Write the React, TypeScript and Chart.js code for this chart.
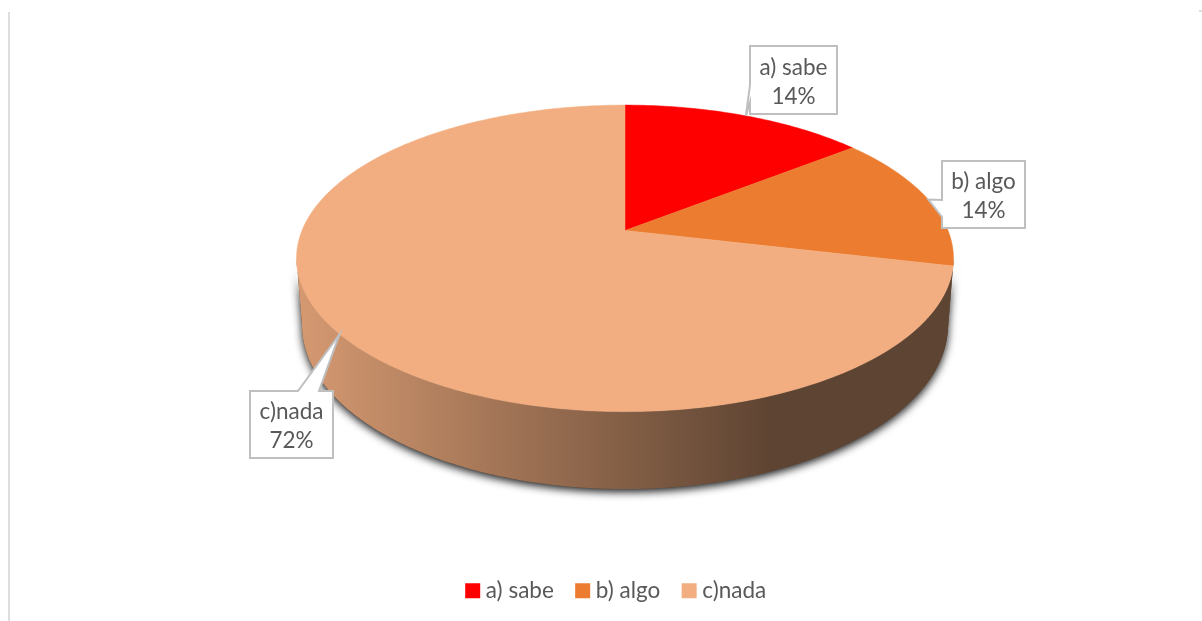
import React, { useEffect, useRef } from "react";
import { Chart, registerables, ArcElement, PieController } from "chart.js";

const categories = ["a) sabe", "b) algo", "c)nada"];
const shares = [14.4, 14.4, 71.6];
const sliceColors = ["#FF0000", "#EB7C30", "#F2AE80"];

const FONT = "Lato, Carlito, sans-serif";
const TEXT = "#595959";
const TILT = -0.1818;
const TOP_FACE = { cx: 625, cy: 230.5, A: 323, B: 148.2 };
const BOTTOM_FACE = { cx: 625, cy: 295.2, A: 317.6, B: 158.6 };
const FRONT_FROM = Math.asin(0.1818);
const FRONT_TO = Math.PI - FRONT_FROM;

type Face = { cx: number; cy: number; A: number; B: number };

function project(face: Face, angle: number) {
  const u = Math.cos(angle);
  const v = Math.sin(angle);
  const d = 1 + TILT * v;
  return { x: face.cx + (face.A * u) / d, y: face.cy + (face.B * v) / d };
}

function shade(hex: string, f: number) {
  const n = parseInt(hex.slice(1), 16);
  const c = [(n >> 16) & 255, (n >> 8) & 255, n & 255].map((q) => Math.round(q * f));
  return `rgb(${c[0]},${c[1]},${c[2]})`;
}

class Arc3D extends ArcElement {
  static id = "arc3d";
  draw(ctx: CanvasRenderingContext2D) {
    const { startAngle, endAngle } = this as any;
    const color = (this as any).options.backgroundColor;
    ctx.save();
    ctx.beginPath();
    ctx.moveTo(TOP_FACE.cx, TOP_FACE.cy);
    const steps = Math.max(8, Math.ceil((endAngle - startAngle) * 60));
    for (let i = 0; i <= steps; i++) {
      const p = project(TOP_FACE, startAngle + ((endAngle - startAngle) * i) / steps);
      ctx.lineTo(p.x, p.y);
    }
    ctx.closePath();
    ctx.fillStyle = color;
    ctx.fill();
    ctx.strokeStyle = color;
    ctx.lineWidth = 0.5;
    ctx.stroke();
    ctx.restore();
  }
}

class Pie3D extends PieController {
  static id = "pie3d";
  static defaults = { dataElementType: "arc3d" };
}

Chart.register(...registerables, Arc3D, Pie3D);

const wallPlugin = {
  id: "wall",
  beforeDatasetsDraw(chart: any) {
    const ctx: CanvasRenderingContext2D = chart.ctx;
    const arcs = chart.getDatasetMeta(0).data;
    const ranges: { from: number; to: number; color: string }[] = [];
    arcs.forEach((arc: any) => {
      const s = arc.startAngle;
      const e = arc.endAngle;
      for (const k of [0, Math.PI * 2]) {
        const from = Math.max(s - k, FRONT_FROM);
        const to = Math.min(e - k, FRONT_TO);
        if (to > from) ranges.push({ from, to, color: arc.options.backgroundColor });
      }
    });
    // one pass for the cast shadow, under every wall
    ctx.save();
    ctx.shadowColor = "rgba(0,0,0,0.9)";
    ctx.shadowBlur = 8;
    ctx.shadowOffsetY = 3;
    ctx.fillStyle = "#5E4431";
    wallPath(ctx, FRONT_FROM, FRONT_TO);
    ctx.fill();
    ctx.restore();
    ranges.forEach((r) => {
      const g = ctx.createLinearGradient(300, 0, 770, 0);
      g.addColorStop(0, shade(r.color, 0.88));
      g.addColorStop(1, shade(r.color, 0.39));
      ctx.save();
      ctx.fillStyle = g;
      wallPath(ctx, r.from, r.to);
      ctx.fill();
      ctx.restore();
    });
  },
};

function wallPath(ctx: CanvasRenderingContext2D, from: number, to: number) {
  const n = Math.max(4, Math.ceil((to - from) * 80));
  ctx.beginPath();
  for (let i = 0; i <= n; i++) {
    const p = project(TOP_FACE, from + ((to - from) * i) / n);
    i === 0 ? ctx.moveTo(p.x, p.y) : ctx.lineTo(p.x, p.y);
  }
  for (let i = n; i >= 0; i--) {
    const p = project(BOTTOM_FACE, from + ((to - from) * i) / n);
    ctx.lineTo(p.x, p.y);
  }
  ctx.closePath();
}

const calloutLayout = [
  { l: 750, t: 46, r: 837, b: 114, side: "left", p0: 85, p1: 102 },
  { l: 942, t: 161, r: 1025, b: 228, side: "left", p0: 200, p1: 217 },
  { l: 250, t: 391, r: 333, b: 458, side: "top", p0: 298, p1: 319 },
];

const calloutPlugin = {
  id: "callouts",
  afterDatasetsDraw(chart: any) {
    const ctx: CanvasRenderingContext2D = chart.ctx;
    const arcs = chart.getDatasetMeta(0).data;
    const values = chart.data.datasets[0].data;
    ctx.save();
    arcs.forEach((arc: any, i: number) => {
      const box = calloutLayout[i];
      const tip = project(TOP_FACE, (arc.startAngle + arc.endAngle) / 2);
      ctx.beginPath();
      ctx.moveTo(box.l, box.t);
      if (box.side === "top") {
        ctx.lineTo(box.p0, box.t);
        ctx.lineTo(tip.x, tip.y);
        ctx.lineTo(box.p1, box.t);
      }
      ctx.lineTo(box.r, box.t);
      ctx.lineTo(box.r, box.b);
      ctx.lineTo(box.l, box.b);
      if (box.side === "left") {
        ctx.lineTo(box.l, box.p1);
        ctx.lineTo(tip.x, tip.y);
        ctx.lineTo(box.l, box.p0);
      }
      ctx.closePath();
      ctx.fillStyle = "#FFFFFF";
      ctx.fill();
      ctx.strokeStyle = "#BFBFBF";
      ctx.lineWidth = 2;
      ctx.stroke();
      ctx.fillStyle = TEXT;
      ctx.font = `22.5px ${FONT}`;
      ctx.textAlign = "center";
      ctx.textBaseline = "middle";
      const mx = (box.l + box.r) / 2;
      const my = (box.t + box.b) / 2 + 2;
      ctx.fillText(String(chart.data.labels[i]), mx, my - 14.5);
      ctx.fillText(`${Math.round(values[i])}%`, mx, my + 14.5);
    });
    ctx.restore();
  },
};

export default function App() {
  const ref = useRef<HTMLCanvasElement>(null);
  useEffect(() => {
    const chart = new Chart(ref.current!, {
      type: "pie3d" as any,
      data: {
        labels: categories,
        datasets: [{ data: shares, backgroundColor: sliceColors, borderWidth: 0 }],
      },
      options: {
        animation: false,
        responsive: false,
        events: [],
        layout: { padding: { left: 35, right: 0, top: 0, bottom: 9 } },
        plugins: {
          tooltip: { enabled: false },
          legend: {
            display: true,
            position: "bottom",
            labels: {
              boxWidth: 3.75,
              boxHeight: 3.75,
              padding: 27,
              color: TEXT,
              font: { family: FONT, size: 22.5 },
              generateLabels: (c: any) =>
                (Chart as any).overrides.pie.plugins.legend.labels
                  .generateLabels(c)
                  .map((l: any) => ({ ...l, strokeStyle: l.fillStyle, lineWidth: 11.25 })),
            },
          },
        },
      } as any,
      plugins: [wallPlugin, calloutPlugin],
    });
    return () => chart.destroy();
  }, []);
  return (
    <div style={{ position: "absolute", left: 0, top: 0, width: 1202, height: 621, overflow: "hidden", background: "#fff" }}>
      <canvas ref={ref} width={1202} height={621} style={{ display: "block" }} />
      <div style={{ position: "absolute", left: 8, top: 12, width: 2, height: 609, background: "#DEDEDE" }} />
      <div style={{ position: "absolute", left: 1199, top: 10, width: 3, height: 2, background: "#DEDEDE" }} />
    </div>
  );
}
